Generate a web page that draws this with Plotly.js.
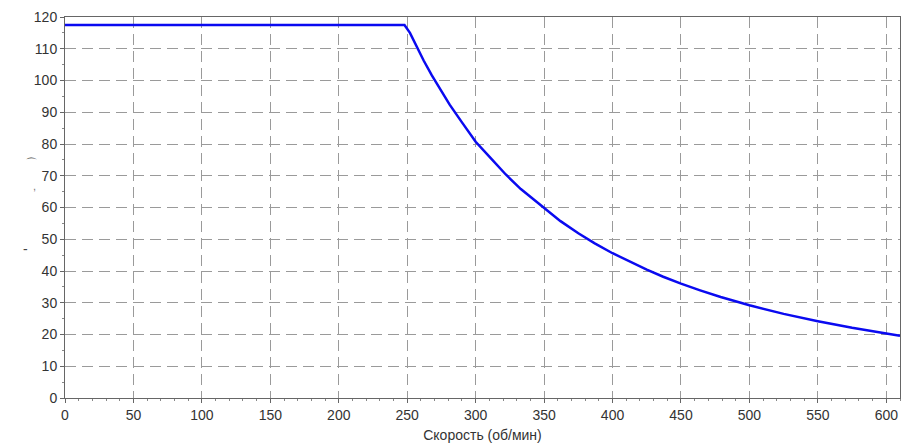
<!DOCTYPE html>
<html>
<head>
<meta charset="utf-8">
<script src="https://cdn.plot.ly/plotly-3.0.1.min.js"></script>
<style>html,body{margin:0;padding:0;background:#fff;}#chart{width:914px;height:447px;}</style>
</head>
<body>
<div id="chart"></div>
<script>
// Speed (rpm) and torque values
var speed  = [0, 248, 252, 257, 262, 268, 274, 281, 290, 300, 310, 322, 333, 350, 362, 375, 387, 400, 412, 425, 437, 450, 464, 479, 500, 525, 550, 575, 600, 610];
var torque = [117.5, 117.5, 115, 110.5, 106.3, 101.6, 97.2, 92.4, 86.8, 80.7, 76, 70.4, 65.8, 60, 55.7, 51.9, 48.7, 45.6, 43, 40.4, 38.2, 36, 33.9, 31.8, 29.2, 26.5, 24.2, 22.1, 20.3, 19.6];
var xTicks = [0, 50, 100, 150, 200, 250, 300, 350, 400, 450, 500, 550, 600];
var yTicks = [0, 10, 20, 30, 40, 50, 60, 70, 80, 90, 100, 110, 120];
var xTitle = 'Скорость (об/мин)';

var trace = {
  x: speed, y: torque, type: 'scatter', mode: 'lines',
  line: {color: '#0a0af0', width: 2.5, shape: 'linear'},
  hoverinfo: 'skip'
};

var gridStyle = {gridcolor: '#9a9a9a', gridwidth: 1, griddash: '11px,6px'};
var layout = {
  width: 914, height: 447,
  margin: {l: 65, r: 14, t: 17, b: 49},
  paper_bgcolor: '#fff', plot_bgcolor: '#fff',
  showlegend: false,
  font: {family: 'Liberation Sans, Arial, sans-serif', size: 14, color: '#333'},
  xaxis: Object.assign({
    range: [0, 610], tickvals: xTicks, ticktext: xTicks.map(String),
    showline: true, linecolor: '#666', linewidth: 1, mirror: true,
    ticks: 'outside', ticklen: 4, tickcolor: '#666',
    minor: {dtick: 10, ticks: 'outside', ticklen: 2, tickcolor: '#888', showgrid: false},
    zeroline: false, showgrid: true,
    title: {text: xTitle, font: {size: 14, color: '#333'}, standoff: 8},
    tickfont: {size: 14, color: '#333'}
  }, gridStyle),
  yaxis: Object.assign({
    range: [0, 120], tickvals: yTicks, ticktext: yTicks.map(String),
    showline: true, linecolor: '#666', linewidth: 1, mirror: true,
    ticks: 'outside', ticklen: 4, tickcolor: '#666',
    minor: {dtick: 5, ticks: 'outside', ticklen: 2, tickcolor: '#888', showgrid: false},
    zeroline: false, showgrid: true,
    tickfont: {size: 14, color: '#333'}
  }, gridStyle),
  annotations: [
    {xref: 'paper', yref: 'paper', x: -0.053, y: 0.39, text: '-', showarrow: false, font: {size: 14, color: '#444'}},
    {xref: 'paper', yref: 'paper', x: -0.041, y: 0.556, text: ',', showarrow: false, font: {size: 11, color: '#777'}},
    {xref: 'paper', yref: 'paper', x: -0.050, y: 0.616, text: '⌒', showarrow: false, font: {family: 'DejaVu Sans', size: 13, color: '#444'}}
  ]
};

Plotly.newPlot('chart', [trace], layout, {displayModeBar: false, staticPlot: true});
</script>
</body>
</html>
